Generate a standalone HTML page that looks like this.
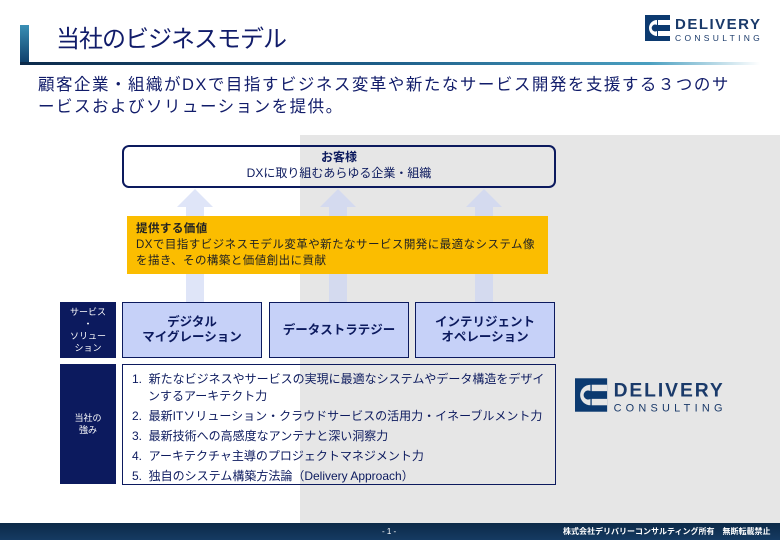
<!DOCTYPE html>
<html><head><meta charset="utf-8"><style>
body{margin:0;width:780px;height:540px;position:relative;overflow:hidden;background:#fff;font-family:"Liberation Sans","Noto Sans CJK JP",sans-serif;}
.a{position:absolute;box-sizing:border-box;}
.navy{background:#0c1a5e;color:#fff;font-size:9px;text-align:center;display:flex;align-items:center;justify-content:center;line-height:12px;}
.svc{background:#c6d1f8;border:1px solid #0c1a5e;color:#0c1a5e;font-weight:bold;font-size:12.5px;text-align:center;display:flex;align-items:center;justify-content:center;line-height:15px;}
.li{font-size:12px;color:#0c1a5e;line-height:17px;}
</style></head><body>
<div class="a" style="left:300px;top:135px;width:480px;height:388px;background:#e6e6e6"></div>
<!-- title -->
<div class="a" style="left:20px;top:25px;width:9px;height:40px;background:linear-gradient(#3a8fb5,#0c3a66)"></div>
<div class="a" style="left:20px;top:62px;width:740px;height:3px;background:linear-gradient(90deg,#0c2a4a,#1e5f8a 50%,#4a9fc0 85%,#fff)"></div>
<div class="a" style="left:56px;top:23px;font-size:24px;color:#111c6a;line-height:34px;letter-spacing:-1px">当社のビジネスモデル</div>
<svg class="a" style="left:645px;top:14px" width="126" height="28" viewBox="0 0 126 28">
<rect x="0" y="1" width="25" height="26" fill="#0c3a70"/><path d="M12 6 A8 8 0 1 0 12 22 L12 17 A3.5 3.5 0 1 1 12 11Z" fill="#fff"/><rect x="13" y="6" width="12" height="5" fill="#fff"/><rect x="13" y="17" width="12" height="5" fill="#fff"/>
<text x="30" y="15" font-family="Liberation Sans" font-weight="bold" font-size="15" fill="#1a3a6a" letter-spacing="1.5">DELIVERY</text>
<text x="30" y="27" font-family="Liberation Sans" font-size="8.5" fill="#1a3a6a" letter-spacing="3.3">CONSULTING</text></svg>
<div class="a" style="left:38px;top:74px;width:742px;font-size:16.5px;color:#111c6a;line-height:22px;letter-spacing:1.5px;white-space:nowrap">顧客企業・組織がDXで目指すビジネス変革や新たなサービス開発を支援する３つのサ<br>ービスおよびソリューションを提供。</div>
<!-- arrows -->
<svg class="a" style="left:0;top:0" width="780" height="540">
<g fill="#dfe5f8"><polygon points="177,207 213,207 195,189"/><rect x="186" y="207" width="18" height="96"/></g>
<g fill="#d4daef"><polygon points="320,207 356,207 338,189"/><rect x="329" y="207" width="18" height="96"/><polygon points="466,207 502,207 484,189"/><rect x="475" y="207" width="18" height="96"/></g></svg>
<div class="a" style="left:122px;top:145px;width:434px;height:43px;border:2px solid #0c1a5e;border-radius:7px;background:transparent;text-align:center;color:#0c1a5e">
<div style="font-weight:bold;font-size:12px;margin-top:3px;line-height:15px">お客様</div><div style="font-size:12px;line-height:16px">DXに取り組むあらゆる企業・組織</div></div>
<div class="a" style="left:127px;top:216px;width:421px;height:58px;background:#fbbd00;color:#222;padding:5px 0 0 9px;font-size:11.5px;line-height:16px;white-space:nowrap;letter-spacing:0.45px">
<div style="font-weight:bold">提供する価値</div><div>DXで目指すビジネスモデル変革や新たなサービス開発に最適なシステム像<br>を描き、その構築と価値創出に貢献</div></div>
<div class="a navy" style="left:60px;top:302px;width:56px;height:56px">サービス<br>・<br>ソリュー<br>ション</div>
<div class="a svc" style="left:122px;top:302px;width:140px;height:56px">デジタル<br>マイグレーション</div>
<div class="a svc" style="left:269px;top:302px;width:140px;height:56px">データストラテジー</div>
<div class="a svc" style="left:415px;top:302px;width:140px;height:56px">インテリジェント<br>オペレーション</div>
<div class="a navy" style="left:60px;top:364px;width:56px;height:120px">当社の<br>強み</div>
<div class="a" style="left:122px;top:364px;width:434px;height:121px;border:1px solid #0c1a5e;padding:6px 0 0 9px">
<div class="li" style="padding-left:16px;text-indent:-16px">1.&nbsp; 新たなビジネスやサービスの実現に最適なシステムやデータ構造をデザイ<br>ンするアーキテクト力</div>
<div class="li" style="margin-top:3px">2.&nbsp; 最新ITソリューション・クラウドサービスの活用力・イネーブルメント力</div>
<div class="li" style="margin-top:3px">3.&nbsp; 最新技術への高感度なアンテナと深い洞察力</div>
<div class="li" style="margin-top:3px">4.&nbsp; アーキテクチャ主導のプロジェクトマネジメント力</div>
<div class="li" style="margin-top:3px">5.&nbsp; 独自のシステム構築方法論（Delivery Approach）</div></div>
<svg class="a" style="left:574px;top:377px" width="164" height="36" viewBox="0 0 126 28">
<rect x="0" y="1" width="25" height="26" fill="#0c3a70"/><path d="M12 6 A8 8 0 1 0 12 22 L12 17 A3.5 3.5 0 1 1 12 11Z" fill="#e6e6e6"/><rect x="13" y="6" width="12" height="5" fill="#e6e6e6"/><rect x="13" y="17" width="12" height="5" fill="#e6e6e6"/>
<text x="30" y="15" font-family="Liberation Sans" font-weight="bold" font-size="15" fill="#1a3a6a" letter-spacing="1.5">DELIVERY</text>
<text x="30" y="27" font-family="Liberation Sans" font-size="8.5" fill="#1a3a6a" letter-spacing="3.3">CONSULTING</text></svg>
<div class="a" style="left:0;top:523px;width:780px;height:17px;background:linear-gradient(#0c2a48,#153a62);color:#fff;font-size:8px;line-height:17px">
<span style="position:absolute;left:382px">- 1 -</span><span style="position:absolute;left:563px;font-weight:bold">株式会社デリバリーコンサルティング所有　無断転載禁止</span></div>
</body></html>
